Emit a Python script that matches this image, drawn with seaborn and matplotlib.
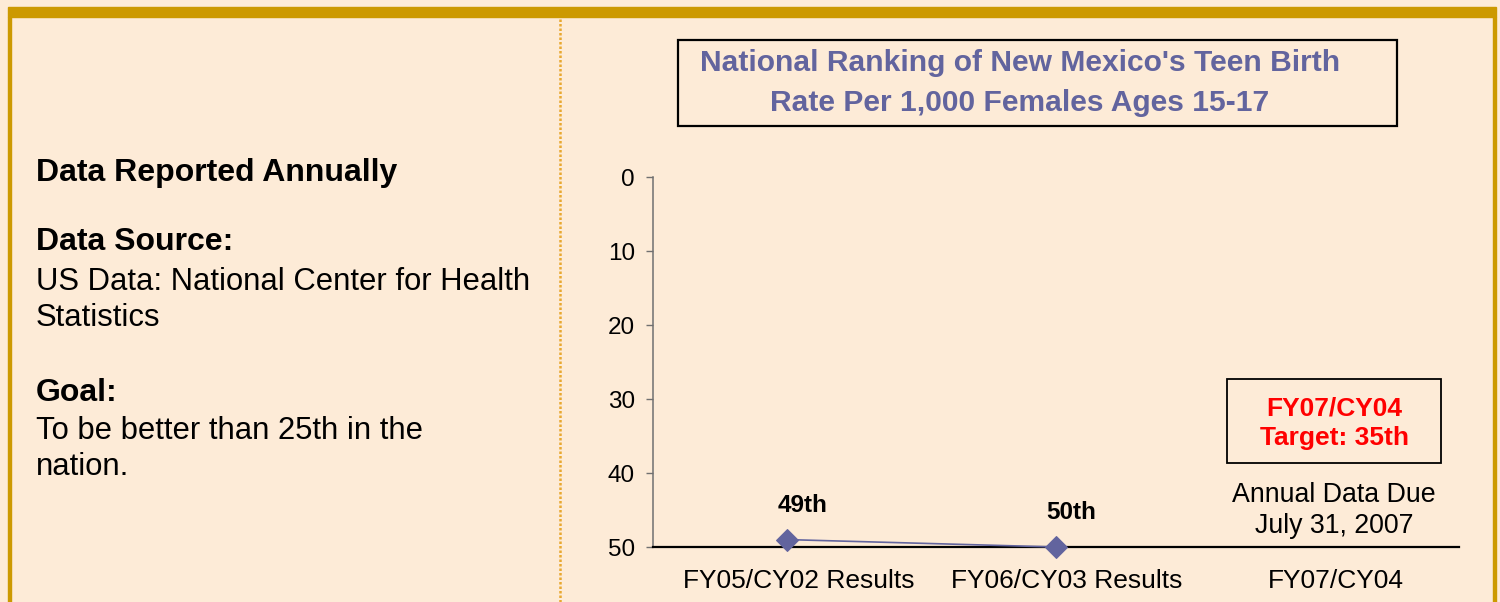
import numpy as np
import pandas as pd
import matplotlib.pyplot as plt
import matplotlib.patches as mpatches
import matplotlib.transforms as mtransforms
import seaborn as sns

# data
periods = ['FY05/CY02 Results', 'FY06/CY03 Results', 'FY07/CY04']
ranks = [49, 50, np.nan]
rank_labels = ['49th', '50th', '']
y_ticks = [0, 10, 20, 30, 40, 50]

title_lines = ["National Ranking of New Mexico's Teen Birth", 'Rate Per 1,000 Females Ages 15-17']
target_lines = ['FY07/CY04', 'Target: 35th']
due_lines = ['Annual Data Due', 'July 31, 2007']

bg = '#FDEBD7'
gold = '#CC9900'
navy = '#62649E'

df = pd.DataFrame({'pos': np.arange(len(periods)), 'rank': ranks})

sns.set_style('white')
plt.rcParams['font.family'] = ['Liberation Sans', 'DejaVu Sans']
plt.rcParams['text.color'] = 'black'
plt.rcParams['xtick.color'] = 'black'
plt.rcParams['ytick.color'] = 'black'

fig = plt.figure(figsize=(15, 6.02), dpi=100)
fig.patch.set_facecolor(bg)
W, H = 1500, 602


def fx(px):
    return px / W


def fy(py):
    return 1 - py / H


# frame: gold band on top and thin gold sides
fig.patches.append(mpatches.Rectangle((fx(8), fy(17)), fx(1488), 10 / H,
                                      transform=fig.transFigure, color=gold, zorder=0))
fig.patches.append(mpatches.Rectangle((fx(8), 0), fx(2.5), fy(17),
                                      transform=fig.transFigure, color=gold, zorder=0))
fig.patches.append(mpatches.Rectangle((fx(1493), 0), fx(3), fy(17),
                                      transform=fig.transFigure, color=gold, zorder=0))
fig.add_artist(plt.Line2D([fx(560), fx(560)], [0, fy(17)], transform=fig.transFigure,
                          color='#E8A830', lw=1.8, linestyle=(0, (1, 0.8))))

# left text panel (baselines)
left = [('Data Reported Annually', 181, 'bold'),
        ('Data Source:', 250, 'bold'),
        ('US Data: National Center for Health', 290, 'normal'),
        ('Statistics', 326, 'normal'),
        ('Goal:', 401, 'bold'),
        ('To be better than 25th in the', 439, 'normal'),
        ('nation.', 475, 'normal')]
for txt, base, wt in left:
    fig.text(fx(36), fy(base), txt, fontsize=23 if wt == 'bold' else 22.3,
             fontweight=wt, va='baseline')

# title box
fig.patches.append(mpatches.Rectangle((fx(678), fy(126)), fx(719), 86 / H, transform=fig.transFigure,
                                      facecolor='none', edgecolor='black', lw=1.6))
for txt, base in zip(title_lines, [71, 111]):
    fig.text(fx(1020), fy(base), txt, fontsize=21.6, fontweight='bold', color=navy,
             ha='center', va='baseline')

# chart
ax = fig.add_axes([fx(653), fy(547), fx(1459 - 653), (547 - 177) / H])
ax.set_facecolor('none')
sns.lineplot(data=df, x='pos', y='rank', ax=ax, color=navy, lw=1.2,
             marker='D', markersize=11, markeredgecolor=navy)
for ln in ax.lines:
    ln.set_clip_on(False)
    ln.set_zorder(5)

for x, r, lab in zip(df['pos'], ranks, rank_labels):
    if not np.isnan(r):
        ax.annotate(lab, (x, r), xytext=(11, 20), textcoords='offset points',
                    ha='center', va='baseline', fontsize=17.5, fontweight='bold')

ax.set_xlim(-0.5, len(periods) - 0.5)
ax.set_ylim(50, 0)
ax.set_yticks(y_ticks)
ax.set_xticks(df['pos'], periods)
ax.set_xlabel('')
ax.set_ylabel('')
ax.tick_params(axis='y', length=5, width=1, color='#707070', pad=8, labelsize=17.5, left=True)
ax.tick_params(axis='x', length=0, pad=16, labelsize=19)
shift = mtransforms.ScaledTranslation(11 / 100, 0, fig.dpi_scale_trans)
for lbl in ax.get_xticklabels():
    lbl.set_transform(lbl.get_transform() + shift)
for s in ['top', 'right']:
    ax.spines[s].set_visible(False)
ax.spines['left'].set_color('#707070')
ax.spines['left'].set_linewidth(1.1)
ax.spines['bottom'].set_color('black')
ax.spines['bottom'].set_linewidth(1.6)

# target box and due date note over the last category
fig.patches.append(mpatches.Rectangle((fx(1227), fy(463)), fx(214), 84 / H, transform=fig.transFigure,
                                      facecolor='none', edgecolor='black', lw=1.3))
for txt, base in zip(target_lines, [415, 445]):
    fig.text(fx(1334), fy(base), txt, fontsize=19, fontweight='bold', color='#FF0000',
             ha='center', va='baseline')
for txt, base in zip(due_lines, [502, 533]):
    fig.text(fx(1334), fy(base), txt, fontsize=19.3, ha='center', va='baseline')

fig.savefig('out.png', dpi=100, facecolor=bg)
